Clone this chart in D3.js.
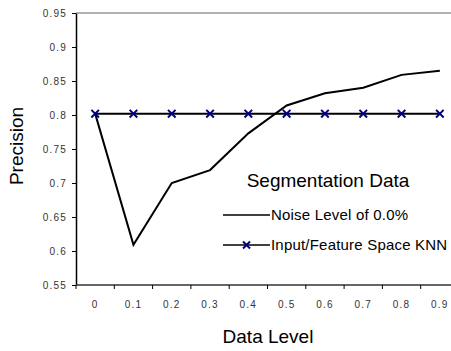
<!DOCTYPE html>
<html>
<head>
<meta charset="utf-8">
<script src="https://cdn.jsdelivr.net/npm/d3@7"></script>
<style>
  body { margin: 0; background: #fff; }
  svg { display: block; font-family: "Liberation Sans", Arial, sans-serif; }
</style>
</head>
<body>
<div id="chart"></div>
<script>
// data
const levels = ['0', '0.1', '0.2', '0.3', '0.4', '0.5', '0.6', '0.7', '0.8', '0.9'];
const noiseLevel = [0.802, 0.609, 0.700, 0.719, 0.773, 0.814, 0.832, 0.840, 0.859, 0.865];
const knn = [0.802, 0.802, 0.802, 0.802, 0.802, 0.802, 0.802, 0.802, 0.802, 0.802];
const yTicks = [0.55, 0.6, 0.65, 0.7, 0.75, 0.8, 0.85, 0.9, 0.95];
const yTickLabels = ['0.55', '0.6', '0.65', '0.7', '0.75', '0.8', '0.85', '0.9', '0.95'];
const seriesNames = ['Noise Level of 0.0%', 'Input/Feature Space KNN'];
const legendTitle = 'Segmentation Data';

const W = 451, H = 351;
const plotLeft = 76, plotRight = 459, plotTop = 13, plotBottom = 285;

const svg = d3.select('#chart').append('svg')
    .attr('width', W)
    .attr('height', H);

const x = d3.scaleBand().domain(levels).range([plotLeft, plotRight]);
const y = d3.scaleLinear().domain([0.55, 0.95]).range([plotBottom, plotTop]);

//上边框
svg.append('line')
    .attr('x1', plotLeft).attr('x2', W)
    .attr('y1', y(0.95)).attr('y2', y(0.95))
    .attr('stroke', '#999').attr('stroke-width', 1.5);

// y axis
const yAxis = svg.append('g')
    .attr('transform', `translate(${plotLeft},0)`)
    .call(d3.axisLeft(y).tickValues(yTicks).tickSize(4).tickSizeOuter(0)
        .tickFormat((d, i) => yTickLabels[i]));
yAxis.select('.domain').attr('stroke', '#000').attr('stroke-width', 1.5);
yAxis.selectAll('.tick line').attr('stroke', '#000');
yAxis.selectAll('.tick text')
    .attr('x', -9)
    .style('font-size', '10px')
    .style('letter-spacing', '1.2px')
    .attr('fill', '#333');

// x axis, ticks on the band edges
svg.append('line')
    .attr('x1', plotLeft).attr('x2', plotRight)
    .attr('y1', plotBottom).attr('y2', plotBottom)
    .attr('stroke', '#333').attr('stroke-width', 1.5);
const edges = levels.map(d => x(d)).concat([x(levels[levels.length - 1]) + x.bandwidth()]);
svg.selectAll('.xtick').data(edges).enter().append('line')
    .attr('class', 'xtick')
    .attr('x1', d => d).attr('x2', d => d)
    .attr('y1', plotBottom).attr('y2', plotBottom + 4)
    .attr('stroke', '#000');
svg.selectAll('.xlabel').data(levels).enter().append('text')
    .attr('class', 'xlabel')
    .attr('x', d => x(d) + x.bandwidth() / 2)
    .attr('y', 308)
    .attr('text-anchor', 'middle')
    .style('font-size', '10px')
    .style('letter-spacing', '1.2px')
    .attr('fill', '#333')
    .text(d => d);

// axis titles
svg.append('text')
    .attr('transform', 'translate(23,146) rotate(-90)')
    .attr('text-anchor', 'middle')
    .style('font-size', '19px')
    .text('Precision');
svg.append('text')
    .attr('x', 268).attr('y', 343)
    .attr('text-anchor', 'middle')
    .style('font-size', '19px')
    .text('Data Level');

const cx = d => x(d) + x.bandwidth() / 2;
const line = d3.line()
    .x((d, i) => cx(levels[i]))
    .y(d => y(d));

svg.append('path')
    .datum(noiseLevel)
    .attr('d', line)
    .attr('fill', 'none')
    .attr('stroke', '#000')
    .attr('stroke-width', 2);

svg.append('path')
    .datum(knn)
    .attr('d', line)
    .attr('fill', 'none')
    .attr('stroke', '#000')
    .attr('stroke-width', 2);

//画x标记
function cross(g, px, py, r) {
    g.append('path')
        .attr('d', `M${px - r} ${py - r}L${px + r} ${py + r}M${px - r} ${py + r}L${px + r} ${py - r}`)
        .attr('stroke', '#000080')
        .attr('stroke-width', 2)
        .attr('fill', 'none');
}
const marks = svg.append('g');
knn.forEach((v, i) => cross(marks, cx(levels[i]), y(v), 3.8));

// legend
svg.append('text')
    .attr('x', 328).attr('y', 187)
    .attr('text-anchor', 'middle')
    .style('font-size', '19px')
    .text(legendTitle);

const legendY = [215, 245];
seriesNames.forEach((name, i) => {
    svg.append('line')
        .attr('x1', 223).attr('x2', 270)
        .attr('y1', legendY[i]).attr('y2', legendY[i])
        .attr('stroke', '#000').attr('stroke-width', 1.5);
    if (i === 1) cross(svg, 246.5, legendY[i], 3.5);
    svg.append('text')
        .attr('x', 271).attr('y', legendY[i])
        .attr('dy', '0.35em')
        .style('font-size', '15px')
        .style('letter-spacing', '0.2px')
        .text(name);
});
</script>
</body>
</html>
